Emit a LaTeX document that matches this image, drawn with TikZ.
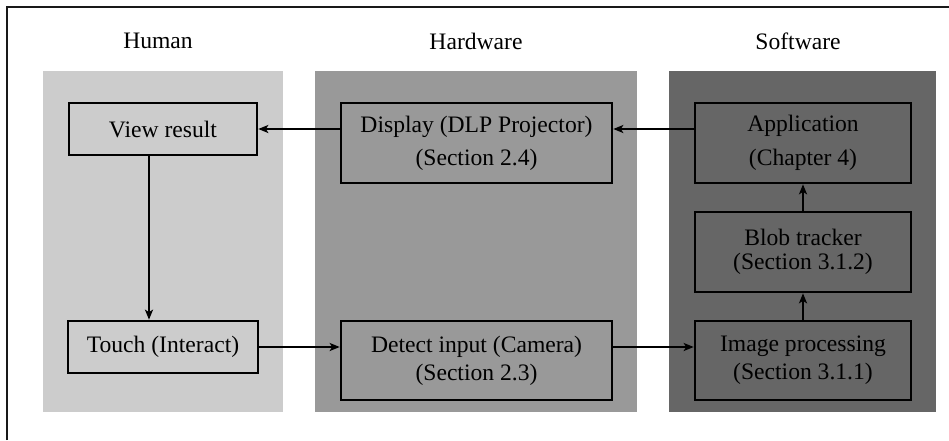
\documentclass[tikz,border=0pt]{standalone}
\usepackage{fontspec}
\setmainfont{Liberation Serif}
\usetikzlibrary{arrows.meta,calc}

\tikzset{
  panel/.style={fill=#1, draw=none, inner sep=0pt, anchor=north west},
  title/.style={font=\fontsize{11.8}{14}\selectfont, anchor=center},
  stepbox/.style={draw=black, line width=1.3pt, rectangle, align=center,
    font=\fontsize{11.8}{14}\selectfont, inner sep=0pt, anchor=center},
  arr/.style={line width=1pt, -{Stealth[length=5pt,width=4pt,inset=1.2pt]}},
  frameline/.style={line width=1pt, draw=black!90}
}

\begin{document}
\begin{tikzpicture}[x=0.5pt, y=-0.5pt]
  \useasboundingbox (0,0) rectangle (949,440);

  % outer frame (open on the right and at the bottom)
  \draw[frameline] (7,440) -- (7,7) -- (949,7);

  % column backgrounds
  \node[panel=black!20, minimum width=120pt, minimum height=170.5pt] (hum) at (43,71) {};
  \node[panel=black!40, minimum width=161pt, minimum height=170.5pt] (hw) at (315,71) {};
  \node[panel=black!60, minimum width=133.5pt, minimum height=170.5pt] (sw) at (669,71) {};

  % column titles
  \node[title] (thum) at (158,41) {Human};
  \node[title] (thw) at (476,41) {Hardware};
  \node[title] (tsw) at (798,41) {Software};

  % process boxes
  \node[stepbox, minimum width=94pt, minimum height=26pt] (view) at (163,129) {View result};
  \node[stepbox, minimum width=95pt, minimum height=26pt] (touch) at (163,347) {Touch (Interact)};
  \node[stepbox, minimum width=135.5pt, minimum height=40pt] (disp) at (476.5,143)
    {Display (DLP Projector)\\[2.5pt](Section 2.4)};
  \node[stepbox, minimum width=135.5pt, minimum height=39.5pt] (det) at (476.5,360.5)
    {Detect input (Camera)\\(Section 2.3)};
  \node[stepbox, minimum width=108pt, minimum height=40pt] (app) at (803,143)
    {Application\\[3pt](Chapter 4)};
  \node[stepbox, minimum width=108pt, minimum height=40pt] (blob) at (803,252)
    {Blob tracker\\[-2pt](Section 3.1.2)};
  \node[stepbox, minimum width=108pt, minimum height=39.5pt] (imgp) at (803,360.5)
    {Image processing\\(Section 3.1.1)};

  % flow
  \draw[arr] (disp.west |- view.east) -- (view.east);
  \draw[arr] (app.west |- view.east) -- (disp.east |- view.east);
  \draw[arr] ([xshift=-7pt]view.south) -- ([xshift=-7pt]touch.north);
  \draw[arr] (touch.east) -- (det.west |- touch.east);
  \draw[arr] (det.east |- touch.east) -- (imgp.west |- touch.east);
  \draw[arr] (imgp.north) -- (blob.south);
  \draw[arr] (blob.north) -- (app.south);
\end{tikzpicture}
\end{document}
